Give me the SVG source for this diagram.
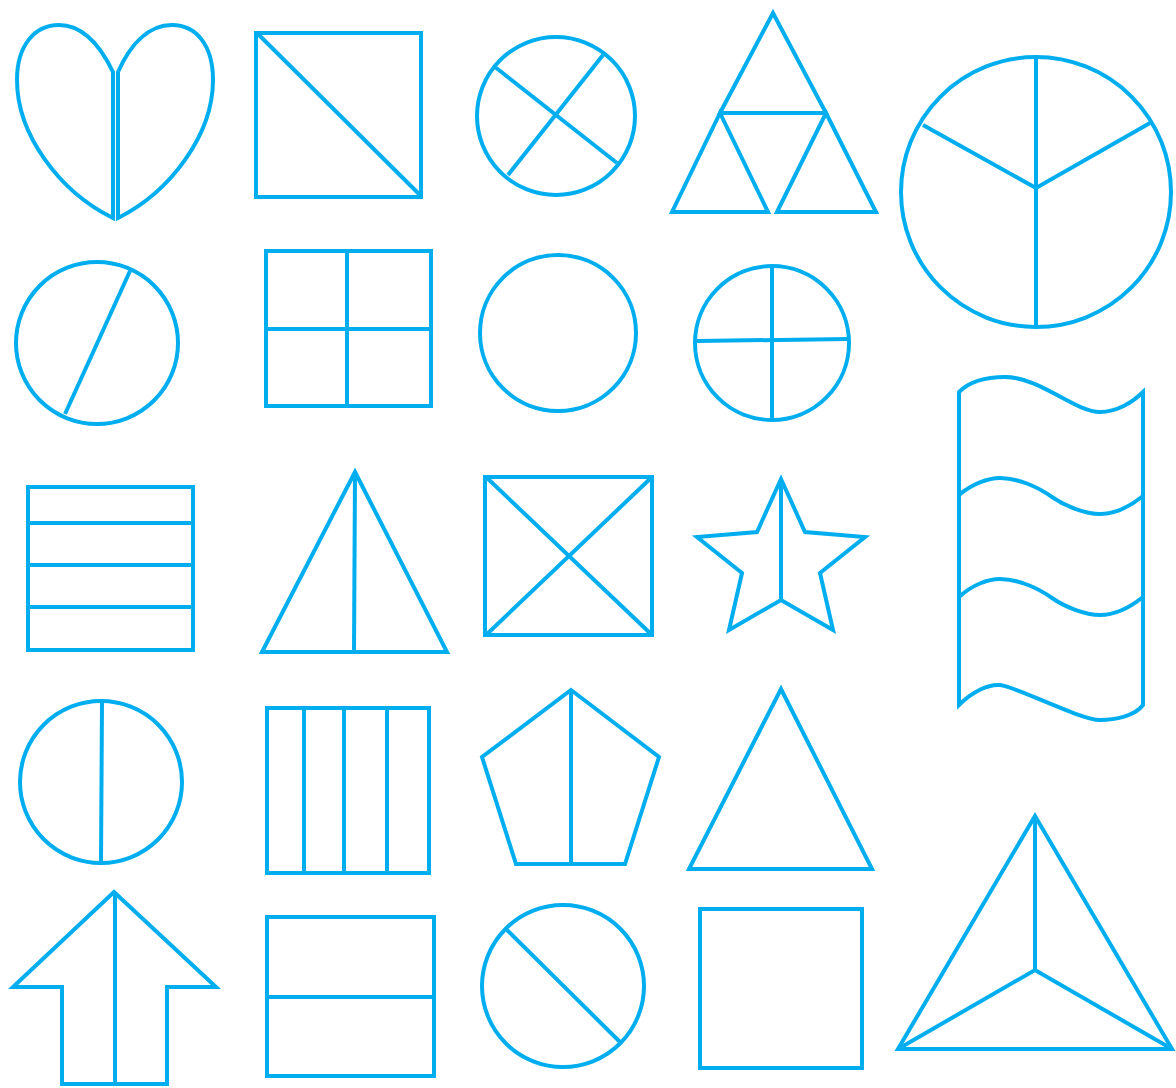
<svg xmlns="http://www.w3.org/2000/svg" width="1176" height="1088" viewBox="0 0 1176 1088">
<style>
.s{fill:none;stroke:#00AEEF;stroke-width:4;stroke-linejoin:miter}
</style>
<rect width="1176" height="1088" fill="#fff"/>
<g class="s">
<g id="heart">
<path d="M113,218 L113,72 C100,45 82,25 59,25 C35,25 17,45 17,80 C17,135 60,192 113,218 Z"/>
<path d="M118,218 L118,72 C130,45 148,25 172,25 C196,25 213,45 213,80 C213,135 170,192 118,218 Z"/>
</g>
<g id="square-diag">
<rect x="256" y="33" width="165" height="164"/>
<line x1="257" y1="33" x2="421" y2="196"/>
</g>
<g id="circle-x">
<circle cx="556" cy="116" r="79"/>
<line x1="495" y1="67" x2="617" y2="163"/>
<line x1="603" y1="55" x2="508" y2="175"/>
</g>
<g id="tri-four">
<polygon points="720,113 773,13 826,113"/>
<polygon points="672,212 720,113 768,212"/>
<polygon points="777,212 826,113 876,212"/>
</g>
<g id="peace-circle">
<circle cx="1036" cy="192" r="135"/>
<line x1="1036" y1="58" x2="1036" y2="326"/>
<polyline points="923,125 1036,188 1150,123"/>
</g>
<g id="circle-half">
<circle cx="97" cy="343" r="81"/>
<line x1="130" y1="271" x2="65" y2="414"/>
</g>
<g id="grid-square">
<rect x="266" y="251" width="165" height="155"/>
<line x1="347" y1="251" x2="347" y2="406"/>
<line x1="266" y1="329" x2="431" y2="329"/>
</g>
<g id="circle-plain">
<circle cx="558" cy="333" r="78"/>
</g>
<g id="circle-cross">
<circle cx="772" cy="343" r="77"/>
<line x1="772" y1="267" x2="772" y2="420"/>
<line x1="697" y1="341" x2="848" y2="339"/>
</g>
<g id="stripes-h">
<rect x="28" y="487" width="165" height="163"/>
<line x1="28" y1="523" x2="193" y2="523"/>
<line x1="28" y1="565" x2="193" y2="565"/>
<line x1="28" y1="607" x2="193" y2="607"/>
</g>
<g id="tri-half">
<polygon points="262,652 355,472 447,652"/>
<line x1="355" y1="474" x2="354" y2="652"/>
</g>
<g id="square-x">
<rect x="485" y="477" width="167" height="158"/>
<line x1="486" y1="477" x2="652" y2="635"/>
<line x1="652" y1="477" x2="486" y2="635"/>
</g>
<g id="star">
<polygon points="781,479 805,532 865,537 820,573 833,630 781,600 729,630 742,573 697,537 757,532"/>
<line x1="781" y1="481" x2="781" y2="600"/>
</g>
<g id="flag">
<path d="M959,392 C970,381 988,377 1005,377 C1040,377 1075,412 1100,412 C1117,412 1133,402 1143,392 L1143,705 C1135,716 1115,720 1100,720 C1080,720 1015,686 1000,685 C988,684 972,692 959,705 Z"/>
<path d="M959,495 C972,484 988,478 1000,478 C1018,478 1038,487 1052,497 C1065,506 1085,514 1100,514 C1117,514 1133,504 1143,496"/>
<path d="M959,597 C972,585 988,579 1000,579 C1018,579 1038,588 1052,598 C1065,607 1085,615 1100,615 C1117,615 1133,605 1143,597"/>
</g>
<g id="circle-vert">
<circle cx="101" cy="782" r="81"/>
<line x1="102" y1="702" x2="101" y2="862"/>
</g>
<g id="stripes-v">
<rect x="267" y="708" width="162" height="165"/>
<line x1="304" y1="708" x2="304" y2="873"/>
<line x1="344" y1="708" x2="344" y2="873"/>
<line x1="387" y1="708" x2="387" y2="873"/>
</g>
<g id="pentagon">
<polygon points="571,690 659,757 625,864 516,864 482,757"/>
<line x1="571" y1="691" x2="571" y2="864"/>
</g>
<g id="triangle">
<polygon points="781,689 872,869 689,869"/>
</g>
<g id="arrow">
<polygon points="114,892 216,987 167,987 167,1084 62,1084 62,987 13,987"/>
<line x1="115" y1="893" x2="115" y2="1084"/>
</g>
<g id="rect-half">
<rect x="267" y="917" width="167" height="159"/>
<line x1="267" y1="997" x2="434" y2="997"/>
</g>
<g id="circle-diag">
<circle cx="563" cy="986" r="81"/>
<line x1="507" y1="930" x2="620" y2="1042"/>
</g>
<g id="square">
<rect x="700" y="909" width="162" height="159"/>
</g>
<g id="tri-three">
<polygon points="1035,816 1172,1049 898,1049"/>
<polyline points="898,1049 1035,970 1172,1049"/>
<line x1="1035" y1="818" x2="1035" y2="970"/>
</g>
</g>
</svg>
